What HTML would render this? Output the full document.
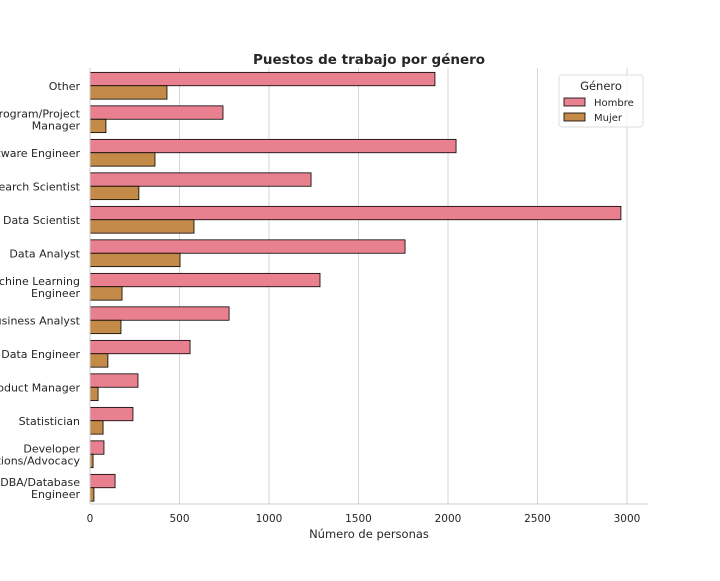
<!DOCTYPE html>
<html><head><meta charset="utf-8"><style>
body{margin:0;background:#fff;width:720px;height:576px;overflow:hidden}
svg{font-family:"DejaVu Sans","Liberation Sans",sans-serif}
</style></head><body>
<svg id="chart" width="720" height="576">
<text x="369" y="64" text-anchor="middle" font-size="13.5" font-weight="bold" fill="#262626">Puestos de trabajo por género</text>
<g id="grid"></g><g id="bars"></g><g id="yl"></g><g id="xl"></g>
<line x1="90" y1="68" x2="90" y2="504" stroke="#ccc"/>
<line x1="90" y1="504" x2="648" y2="504" stroke="#ccc"/>
<text x="369" y="538" text-anchor="middle" font-size="11.5" fill="#262626">Número de personas</text>
<g>
<rect x="559" y="75" width="84" height="52" rx="3" fill="#fff" fill-opacity="0.8" stroke="#ddd"/>
<text x="601" y="90" text-anchor="middle" font-size="11.5" fill="#262626">Género</text>
<rect x="564" y="98" width="21" height="8" fill="#e8808f" stroke="#000" stroke-width="0.8"/>
<text x="594" y="106" font-size="10" fill="#262626">Hombre</text>
<rect x="564" y="113" width="21" height="8" fill="#c48a48" stroke="#000" stroke-width="0.8"/>
<text x="594" y="121" font-size="10" fill="#262626">Mujer</text>
</g>
</svg>
<script>
const categories=[["Other"],["Program/Project","Manager"],["Software Engineer"],["Research Scientist"],["Data Scientist"],["Data Analyst"],["Machine Learning","Engineer"],["Business Analyst"],["Data Engineer"],["Product Manager"],["Statistician"],["Developer","Relations/Advocacy"],["DBA/Database","Engineer"]];
const hombre=[1927,743,2045,1235,2966,1760,1285,777,559,268,240,78,140];
const mujer=[430,89,363,273,581,503,179,173,100,45,73,17,22];
const xTicks=[0,500,1000,1500,2000,2500,3000];
const NS="http://www.w3.org/2000/svg";
const x0=90,sc=537/3000,top0=69,band=33.5;
const xs=v=>x0+v*sc;
const yc=i=>top0+band*(i+0.5);
function mk(t,a,p){const e=document.createElementNS(NS,t);for(const k in a)e.setAttribute(k,a[k]);document.getElementById(p).appendChild(e);return e;}
xTicks.forEach(t=>{
 const g=mk("line",{x1:xs(t),x2:xs(t),y1:68,y2:504,stroke:"#ccc","stroke-width":0.8},"grid");
 
 
 const l=mk("text",{x:xs(t),y:522,"text-anchor":"middle","font-size":10.5,fill:"#262626"},"xl");
 l.textContent=t;
 
 
});
const bh=13.4;
categories.forEach((c,i)=>{
 const y=yc(i);
 const b1=mk("rect",{x:x0,y:y-bh,width:xs(hombre[i])-x0,height:bh,fill:"#e8808f",stroke:"#000","stroke-width":0.8},"bars");
 
 
 const b2=mk("rect",{x:x0,y:y,width:xs(mujer[i])-x0,height:bh,fill:"#c48a48",stroke:"#000","stroke-width":0.8},"bars");
 
 
 const t=mk("text",{x:80,"text-anchor":"end","font-size":11,fill:"#262626"},"yl");
 
 
 const n=c.length;
 c.forEach((s,j)=>{const ts=mk("tspan",{x:80,y:y+4+(j-(n-1)/2)*12},"yl");t.appendChild(ts);ts.textContent=s;});
});
</script>
</body></html>
